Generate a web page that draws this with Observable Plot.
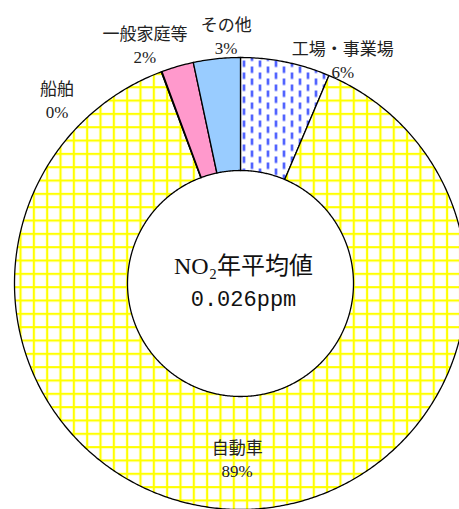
<!DOCTYPE html>
<html><head><meta charset="utf-8">
<script src="https://cdn.jsdelivr.net/npm/d3@7"></script>
<script src="https://cdn.jsdelivr.net/npm/@observablehq/plot@0.6"></script>
<style>body{margin:0;background:#fff;overflow:hidden}</style>
</head><body><div id="chart"></div>
<script>
// ---- data ----
const categories = ["工場・事業場", "自動車", "船舶", "一般家庭等", "その他"];
const shares = [6.4, 87.9, 0.05, 2.3, 3.35];
const pctLabels = ["6%", "89%", "0%", "2%", "3%"];
const centerTitle = "NO₂年平均値";
const centerValue = "0.026ppm";

// ---- layout ----
const W = 459, H = 509, CX = 240, CY = 283, R = 226, INNER = 0.5;
const fills = ["url(#dash)", "url(#grid)", "#ffff00", "#ff99cc", "#99ccff"];
// label placement (polar: degrees clockwise from top, radius in outer-radius units)
const labelPolar = [[24.5, 1.092], [181.1, 0.774], [315.1, 1.15], [338.2, 1.139], [356.7, 1.099]];

const rows = categories.map((c, i) => ({cat: c, share: shares[i], label: pctLabels[i]}));
const arcs = d3.pie().sort(null).value(d => d.share)(rows);

const pts = [];
for (const a of arcs) {
  const n = Math.max(2, Math.ceil((a.endAngle - a.startAngle) / (Math.PI / 360)));
  for (let k = 0; k <= n; k++) {
    const t = a.startAngle + (a.endAngle - a.startAngle) * k / n;
    pts.push({cat: a.data.cat, x: Math.sin(t), y: Math.cos(t)});
  }
  for (let k = n; k >= 0; k--) {
    const t = a.startAngle + (a.endAngle - a.startAngle) * k / n;
    pts.push({cat: a.data.cat, x: INNER * Math.sin(t), y: INNER * Math.cos(t)});
  }
}

const labelRows = rows.map((d, i) => {
  const t = labelPolar[i][0] * Math.PI / 180, r = labelPolar[i][1];
  return {text: d.cat + "\n" + d.label, x: r * Math.sin(t), y: r * Math.cos(t)};
});

function patternDefs() {
  const defs = document.createElementNS("http://www.w3.org/2000/svg", "defs");
  defs.innerHTML = `
    <pattern id="grid" patternUnits="userSpaceOnUse" x="0" y="0" width="13.33" height="13.33">
      <rect width="13.33" height="13.33" fill="#fff"/>
      <path d="M6.7 0V13.33M0 6.7H13.33" stroke="#ffff00" stroke-width="2.2" fill="none"/>
    </pattern>
    <pattern id="dash" patternUnits="userSpaceOnUse" x="0" y="0" width="16" height="12">
      <rect width="16" height="12" fill="#fff"/>
      <path d="M3.5 0V6.5M11.5 6V12.5" stroke="#1f36ff" stroke-width="2.1" fill="none"/>
      <path d="M11.5 0V0.5" stroke="#1f36ff" stroke-width="2.1" fill="none"/>
    </pattern>`;
  return defs;
}

const font = "'Liberation Serif', 'Noto Sans CJK JP', serif";

const chart = Plot.plot({
  width: W, height: H,
  margin: 0,
  x: {domain: [-CX / R, (W - CX) / R], axis: null},
  y: {domain: [-(H - CY) / R, CY / R], axis: null},
  color: {domain: categories, range: fills},
  style: {background: "#fff", overflow: "hidden"},
  marks: [
    patternDefs,
    Plot.line(pts, {x: "x", y: "y", z: "cat", fill: "cat", stroke: "#000", strokeWidth: 1.3, curve: "linear-closed"}),
    Plot.text(labelRows, {x: "x", y: "y", text: "text", fontSize: 17, lineHeight: 1.35, fill: "#222", fontFamily: font}),
    Plot.text([centerTitle], {x: 0, y: 0, text: d => d, dx: 3, dy: -17, fontSize: 24, fill: "#111", fontFamily: font}),
    Plot.text([centerValue], {x: 0, y: 0, text: d => d, dx: 3, dy: 15, fontSize: 22, fill: "#111", fontFamily: "'Liberation Mono', monospace"})
  ]
});
document.getElementById("chart").appendChild(chart);
</script>
</body></html>
